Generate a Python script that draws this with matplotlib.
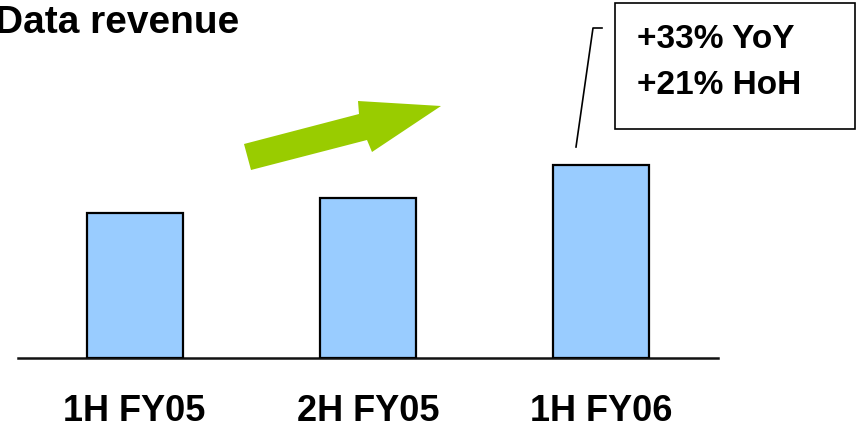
import matplotlib
matplotlib.use("Agg")
import matplotlib.pyplot as plt
from matplotlib.patches import Polygon, Rectangle
from matplotlib.lines import Line2D

# Half-year data revenue (indexed, 1H FY05 = 100)
periods = ["1H FY05", "2H FY05", "1H FY06"]
revenue = [100, 110, 133]
growth_notes = ["+33% YoY", "+21% HoH"]
title = "Data revenue"

W, H = 860, 435
fig = plt.figure(figsize=(W / 100, H / 100), dpi=100)

def fx(px):
    return px / W

def fy(py):
    return 1 - py / H

FONT = ["Liberation Sans", "DejaVu Sans"]

# Axes: baseline at y=359 px, spanning x 18..718 px
ax = fig.add_axes([fx(18), fy(359), fx(718) - fx(18), fy(0) - fy(359)])
x = list(range(len(periods)))
ax.bar(x, revenue, width=0.41, color="#99CCFF", edgecolor="black",
       linewidth=1.6, zorder=3)
ax.set_xlim(-0.5, 2.5)
ax.set_ylim(0, 247)
for s in ["top", "right", "left"]:
    ax.spines[s].set_visible(False)
ax.spines["bottom"].set_linewidth(1.8)
ax.spines["bottom"].set_color("#111111")
ax.set_yticks([])
ax.set_xticks(x)
ax.set_xticklabels(periods, fontsize=26, fontweight="bold", family=FONT)
ax.tick_params(axis="x", length=0, pad=38)
for lbl in ax.get_xticklabels():
    lbl.set_va("center")
ax.patch.set_alpha(0)

# Title, partly cut at the left edge
fig.text(fx(-5), fy(23), title, fontsize=28, fontweight="bold",
         family=FONT, va="center", ha="left")

# Upward growth arrow
arrow_px = [(244, 145), (359, 115), (358, 102), (441, 107),
            (372, 153), (367, 141), (251, 171)]
fig.add_artist(Polygon([(fx(a), fy(b)) for a, b in arrow_px], closed=True,
                       facecolor="#99CC00", edgecolor="none",
                       transform=fig.transFigure))

# Callout box with growth figures
fig.add_artist(Rectangle((fx(615), fy(130)), fx(855) - fx(615), fy(4) - fy(130),
                         facecolor="white", edgecolor="black", linewidth=1.2,
                         transform=fig.transFigure))
for i, note in enumerate(growth_notes):
    fig.text(fx(637), fy(39 + i * 47), note, fontsize=24, fontweight="bold",
             family=FONT, va="center", ha="left")

# Leader line from the callout to the last bar
fig.add_artist(Line2D([fx(576), fx(593), fx(602)], [fy(148), fy(29), fy(29)],
                      color="black", linewidth=1.2, transform=fig.transFigure))

fig.savefig("out.png", dpi=100)
